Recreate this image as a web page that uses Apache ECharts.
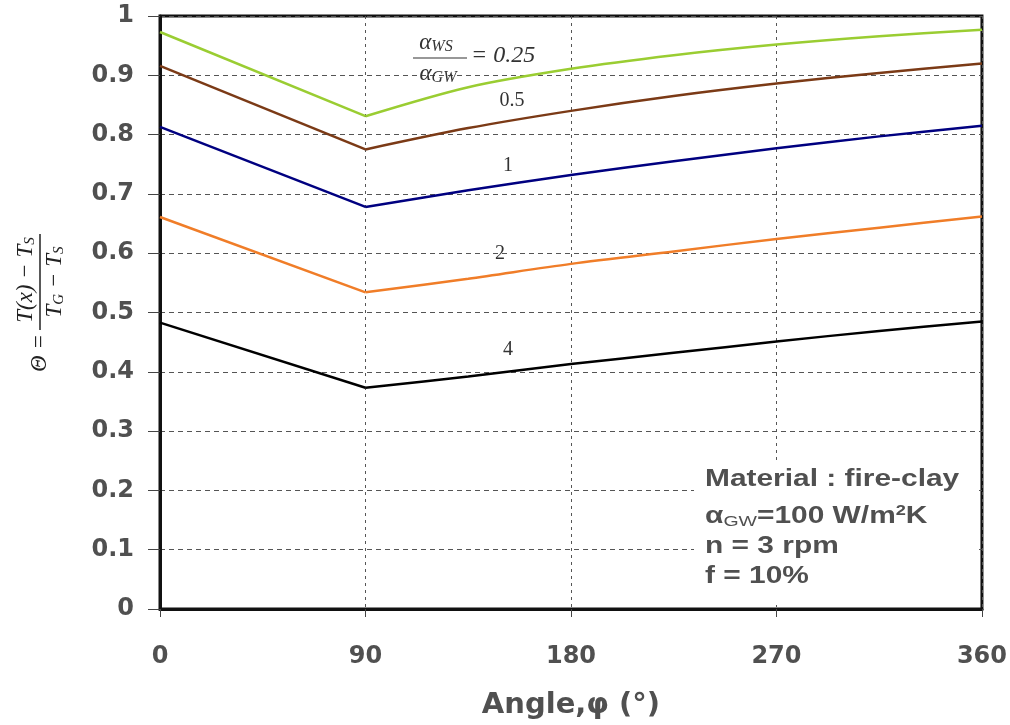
<!DOCTYPE html>
<html>
<head>
<meta charset="utf-8">
<script src="https://cdn.jsdelivr.net/npm/echarts@6/dist/echarts.min.js"></script>
<style>
  html, body { margin: 0; padding: 0; background: #fff; }
  #chart { width: 1010px; height: 725px; }
</style>
</head>
<body>
<div id="chart"></div>
<script>
// angle (deg) on x, theta on y, one array per ratio alpha_WS / alpha_GW
var angles = [0, 90, 135, 180, 225, 270, 315, 360];
var ratios = ['0.25', '0.5', '1', '2', '4'];
var theta025 = [0.973, 0.831, 0.880, 0.911, 0.934, 0.952, 0.966, 0.977];
var theta05  = [0.916, 0.775, 0.811, 0.840, 0.865, 0.886, 0.904, 0.920];
var theta1   = [0.813, 0.678, 0.706, 0.732, 0.755, 0.777, 0.797, 0.815];
var theta2   = [0.661, 0.534, 0.557, 0.582, 0.603, 0.624, 0.643, 0.662];
var theta4   = [0.483, 0.373, 0.392, 0.413, 0.432, 0.451, 0.469, 0.485];

var allTheta = [theta025, theta05, theta1, theta2, theta4];
var colors = ['#9acd32', '#7b3a16', '#000080', '#f07d28', '#000000'];

var myChart = echarts.init(document.getElementById('chart'));

var labelFont = { color: '#505050', fontFamily: 'DejaVu Sans', fontWeight: 'bold', fontSize: 24 };
var serif = 'Liberation Serif';

// each curve: straight drop 0..90, then a smooth rise 90..360
var series = [];
allTheta.forEach(function (vals, k) {
  var pts = angles.map(function (a, i) { return [a, vals[i]]; });
  series.push({
    name: ratios[k], type: 'line', showSymbol: false,
    data: pts.filter(function (p) { return p[0] <= 90; }),
    lineStyle: { color: colors[k], width: 2.5 }, z: 3
  });
  series.push({
    name: ratios[k], type: 'line', showSymbol: false, smooth: 0.3,
    data: pts.filter(function (p) { return p[0] >= 90; }),
    lineStyle: { color: colors[k], width: 2.5 }, z: 3
  });
});

function curveLabel(txt, x, y) {
  return {
    type: 'text', x: x, y: y, z: 10,
    style: { text: txt, font: '20px "' + serif + '"', fill: '#333', align: 'center', verticalAlign: 'middle' }
  };
}

function boxLine(txt, y, rich) {
  return {
    type: 'text', x: 705, y: y, scaleX: 1.3, z: 10,
    style: { text: txt, font: 'bold 23px "Liberation Sans"', fill: '#505050', verticalAlign: 'middle', rich: rich }
  };
}

var option = {
  animation: false,
  backgroundColor: '#fff',
  grid: { left: 160, right: 28, top: 16, bottom: 116, show: true, borderColor: '#111', borderWidth: 3 },
  xAxis: {
    type: 'value', min: 0, max: 360, interval: 90,
    axisLine: { show: true, onZero: false, lineStyle: { color: '#111', width: 3 } },
    axisTick: { show: true, length: 8, lineStyle: { color: '#444' } },
    axisLabel: Object.assign({ margin: 36 }, labelFont),
    splitLine: { show: true, lineStyle: { color: '#555', type: [3, 4], width: 1 } },
    name: 'Angle,φ (°)', nameLocation: 'middle', nameGap: 82,
    nameTextStyle: { color: '#505050', fontFamily: 'DejaVu Sans', fontWeight: 'bold', fontSize: 29 }
  },
  yAxis: {
    type: 'value', min: 0, max: 1, interval: 0.1,
    axisLine: { show: true, lineStyle: { color: '#111', width: 3 } },
    axisTick: { show: true, length: 12, lineStyle: { color: '#444' } },
    axisLabel: Object.assign({ margin: 26 }, labelFont),
    splitLine: { show: true, lineStyle: { color: '#555', type: [5, 4], width: 1 } }
  },
  series: series,
  graphic: [
    // y axis title: theta = (T(x) - T_S) / (T_G - T_S), rotated
    {
      type: 'group', x: 40, y: 282, rotation: Math.PI / 2, z: 10,
      children: [
        { type: 'line', z: 10, shape: { x1: -48, y1: 0, x2: 48, y2: 0 }, style: { stroke: '#222', lineWidth: 1.5 } },
        {
          type: 'text', x: 2, y: -2, z: 10,
          style: {
            text: 'T(x) − T{s|S}', font: 'italic 23px "' + serif + '"', fill: '#222',
            align: 'center', verticalAlign: 'bottom',
            rich: { s: { fontFamily: serif, fontStyle: 'italic', fontSize: 15, padding: [10, 0, 0, 0], fill: '#222' } }
          }
        },
        {
          type: 'text', x: 0, y: 2, z: 10,
          style: {
            text: 'T{s|G} − T{s|S}', font: 'italic 23px "' + serif + '"', fill: '#222',
            align: 'center', verticalAlign: 'top',
            rich: { s: { fontFamily: serif, fontStyle: 'italic', fontSize: 15, padding: [10, 0, 0, 0], fill: '#222' } }
          }
        },
        {
          type: 'text', x: -52, y: 0, z: 10,
          style: { text: 'Θ =', font: 'italic 23px "' + serif + '"', fill: '#222', align: 'right', verticalAlign: 'middle' }
        }
      ]
    },
    // ratio annotation alpha_WS / alpha_GW = 0.25
    {
      type: 'text', x: 436, y: 43, z: 10,
      style: {
        text: 'α{s|WS}', font: 'italic 23px "' + serif + '"', fill: '#333', align: 'center', verticalAlign: 'middle',
        rich: { s: { fontFamily: serif, fontStyle: 'italic', fontSize: 16, padding: [8, 0, 0, 0], fill: '#333' } }
      }
    },
    { type: 'line', z: 10, shape: { x1: 413, y1: 58, x2: 467, y2: 58 }, style: { stroke: '#333', lineWidth: 1.2 } },
    {
      type: 'text', x: 438, y: 74, z: 10,
      style: {
        text: 'α{s|GW}', font: 'italic 23px "' + serif + '"', fill: '#333', align: 'center', verticalAlign: 'middle',
        rich: { s: { fontFamily: serif, fontStyle: 'italic', fontSize: 16, padding: [8, 0, 0, 0], fill: '#333' } }
      }
    },
    {
      type: 'text', x: 471, y: 56, z: 10,
      style: { text: '= 0.25', font: 'italic 24px "' + serif + '"', fill: '#333', align: 'left', verticalAlign: 'middle' }
    },
    curveLabel('0.5', 512, 101),
    curveLabel('1', 508, 166),
    curveLabel('2', 500, 254),
    curveLabel('4', 508, 350),
    // parameter box
    { type: 'rect', shape: { x: 694, y: 462, width: 284, height: 143 }, style: { fill: '#fff' }, z: 5 },
    boxLine('Material : fire-clay', 480),
    boxLine('α{sub|GW}=100 W/m{sup|2}K', 517, {
      sub: { fontFamily: 'Liberation Sans', fontSize: 15, fontWeight: 'normal', padding: [9, 0, 0, 0], fill: '#505050' },
      sup: { fontFamily: 'Liberation Sans', fontSize: 14, fontWeight: 'bold', padding: [0, 0, 11, 0], fill: '#505050' }
    }),
    boxLine('n = 3 rpm', 547),
    boxLine('f = 10%', 577)
  ]
};

myChart.setOption(option);
window.addEventListener('resize', function () {
  myChart.resize();
});
</script>
</body>
</html>
